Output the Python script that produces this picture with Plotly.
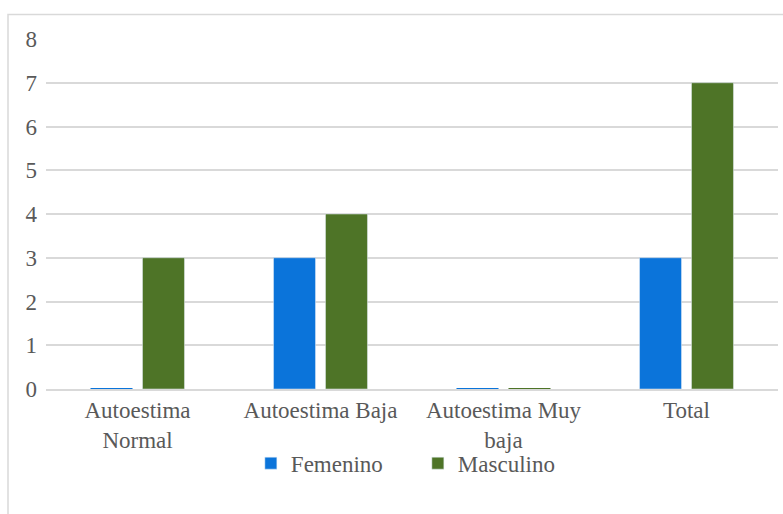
import plotly.graph_objects as go

# Data
categorias = ["Autoestima<br>Normal", "Autoestima Baja", "Autoestima Muy<br>baja", "Total"]
femenino = [0, 3, 0, 3]
masculino = [3, 4, 0, 7]
y_ticks = [0, 1, 2, 3, 4, 5, 6, 7, 8]

AZUL = "#0B74DA"
VERDE = "#4E7427"
GRIS_TXT = "#595959"
GRIS_LIN = "#D9D9D9"
FUENTE = "Liberation Serif"
TAM = 23

fig = go.Figure()
fig.add_trace(go.Bar(name="Femenino", x=categorias, y=femenino, marker_color=AZUL))
fig.add_trace(go.Bar(name="Masculino", x=categorias, y=masculino, marker_color=VERDE))

# Zero-valued bars rendered as short flat strokes on the baseline
for nombre, vals, color in [("Femenino", femenino, AZUL), ("Masculino", masculino, VERDE)]:
    xs = [c for c, v in zip(categorias, vals) if v == 0]
    ys = [v for v in vals if v == 0]
    fig.add_trace(go.Scatter(
        x=xs, y=ys, mode="markers", showlegend=False, hoverinfo="skip",
        marker=dict(symbol="line-ew", size=30, line=dict(color=color, width=2)),
        name=nombre, cliponaxis=False,
    ))

fig.update_layout(
    width=783, height=514,
    margin=dict(l=46, r=5, t=38.5, b=125),
    paper_bgcolor="white", plot_bgcolor="white",
    barmode="group", bargap=0.432, bargroupgap=0.192,
    scattermode="group", scattergap=0.432,
    font=dict(family=FUENTE, size=TAM, color=GRIS_TXT),
    showlegend=True,
    legend=dict(orientation="h", x=0.508, xanchor="center", y=-0.212, yanchor="middle",
                bgcolor="rgba(0,0,0,0)", itemwidth=30, entrywidth=122,
                font=dict(size=TAM, color=GRIS_TXT), traceorder="normal"),
    shapes=[dict(type="rect", xref="paper", yref="paper",
                 x0=-0.0519, x1=1.01, y0=-0.37, y1=1.07,
                 line=dict(color=GRIS_LIN, width=1.5), layer="below")],
)
fig.update_yaxes(range=[0, 8], tickvals=y_ticks, showgrid=True, gridcolor=GRIS_LIN,
                 gridwidth=1.5, zeroline=False, showline=False, ticks="",
                 ticklabelstandoff=8)
fig.update_xaxes(showline=True, linecolor=GRIS_LIN, linewidth=1.5, ticks="",
                 showgrid=False, ticklabelstandoff=0)

fig.write_html("out.html")
